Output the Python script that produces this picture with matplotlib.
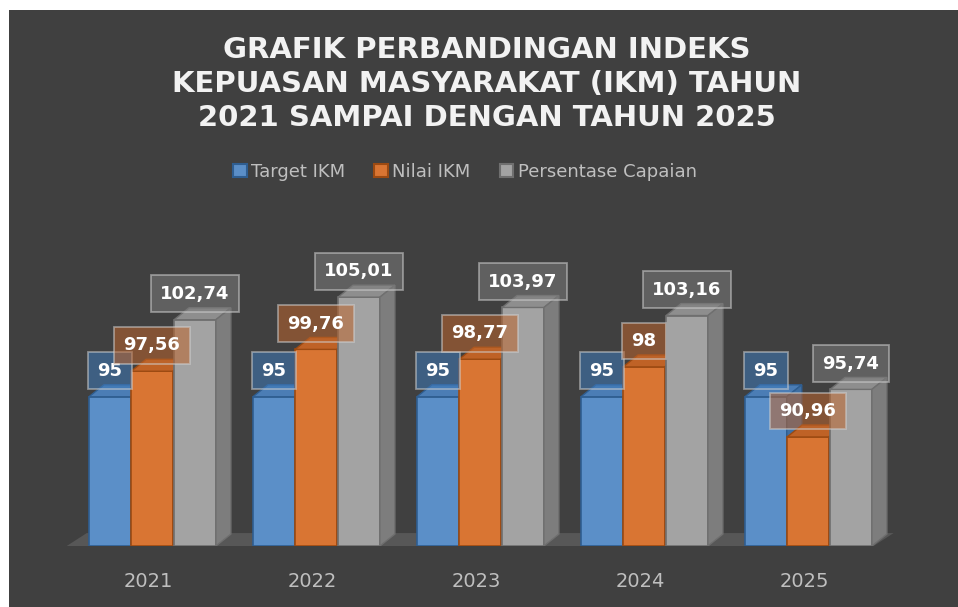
import matplotlib.pyplot as plt
from matplotlib.patches import Polygon, Rectangle, Patch
import numpy as np

# Data
years = ['2021', '2022', '2023', '2024', '2025']
target_ikm = [95, 95, 95, 95, 95]
nilai_ikm = [97.56, 99.76, 98.77, 98, 90.96]
persentase_capaian = [102.74, 105.01, 103.97, 103.16, 95.74]
series_names = ['Target IKM', 'Nilai IKM', 'Persentase Capaian']
title_lines = ['GRAFIK PERBANDINGAN INDEKS',
               'KEPUASAN MASYARAKAT (IKM) TAHUN',
               '2021 SAMPAI DENGAN TAHUN 2025']

# Styles: (front, top, side, edge, label box)
styles = [
    ('#5b8fc8', '#4b7db5', '#3f6fa3', '#2f5e91', '#3e7aba'),
    ('#d97533', '#bf6226', '#a8561f', '#9c4a12', '#bc642c'),
    ('#a3a3a3', '#8e8e8e', '#7d7d7d', '#6f6f6f', '#7c7c7c'),
]
offsets = [-0.257, 0.0, 0.262]
width = 0.255
base = 80
dx, dy = 0.0915, 1.2  # depth of the fake 3D boxes

fig = plt.figure(figsize=(9.58, 6.07), dpi=100)
fig.patch.set_facecolor('white')
fig.patches.append(Rectangle((9 / 958, 0), 1, 597 / 607, transform=fig.transFigure,
                             facecolor='#404040', edgecolor='none', zorder=-10))

ax = fig.add_axes([53.6 / 958, 61 / 607, 852.8 / 958, 338.3 / 607])
ax.set_xlim(-0.6, 4.6)
ax.set_ylim(base, 114)
ax.patch.set_alpha(0)
for sp in ax.spines.values():
    sp.set_visible(False)
ax.set_yticks([])

x = np.arange(len(years))

# floor
ax.add_patch(Polygon([(-0.52, base), (4.40, base), (4.40 + 0.122, base + 1.3), (-0.52 + 0.122, base + 1.3)],
                     closed=True, facecolor='#575757', edgecolor='none', zorder=1, clip_on=False))

all_values = [target_ikm, nilai_ikm, persentase_capaian]
for s, vals in enumerate(all_values):
    front, top, side, edge, boxc = styles[s]
    xs = x + offsets[s]
    heights = np.array(vals) - base
    ax.bar(xs, heights, width=width, bottom=base, color=front, edgecolor=edge,
           linewidth=1.2, zorder=2 + s)
    for xc, v in zip(xs, vals):
        x0, x1 = xc - width / 2, xc + width / 2
        ax.add_patch(Polygon([(x0, v), (x1, v), (x1 + dx, v + dy), (x0 + dx, v + dy)],
                             closed=True, facecolor=top, edgecolor=edge, linewidth=1.0, zorder=2 + s))
        ax.add_patch(Polygon([(x1, base), (x1, v), (x1 + dx, v + dy), (x1 + dx, base + dy)],
                             closed=True, facecolor=side, edgecolor=edge, linewidth=1.0, zorder=2 + s))

# data labels
for s, vals in enumerate(all_values):
    boxc = styles[s][4]
    for xc, v in zip(x + offsets[s], vals):
        txt = f'{v:g}'.replace('.', ',')
        ax.text(xc, v + 2.6, txt, ha='center', va='center', fontsize=13, fontweight='bold',
                color='white', zorder=10,
                bbox=dict(boxstyle='square,pad=0.52', facecolor=boxc, alpha=0.55,
                          edgecolor='#d0d0d0', linewidth=1.3))

ax.set_xticks(x - 0.025)
ax.set_xticklabels(years, color='#bfbfbf', fontsize=14)
ax.tick_params(axis='x', length=0, pad=19)

# title
for k, line in enumerate(title_lines):
    fig.text(0.508, 1 - (58 + 34 * k) / 607, line, ha='center', va='baseline',
             fontsize=21, fontweight='bold', color='#f2f2f2')

# legend
handles = [Patch(facecolor=styles[s][0], edgecolor=styles[s][3], linewidth=1.5, label=series_names[s])
           for s in range(3)]
fig.legend(handles=handles, loc='center', bbox_to_anchor=(465 / 958, 1 - 172 / 607), ncol=3,
           frameon=False, fontsize=13, labelcolor='#bfbfbf', handlelength=0.75, handleheight=0.75,
           handletextpad=0.25, columnspacing=1.6)

fig.savefig('out.png', dpi=100, facecolor=fig.get_facecolor())
